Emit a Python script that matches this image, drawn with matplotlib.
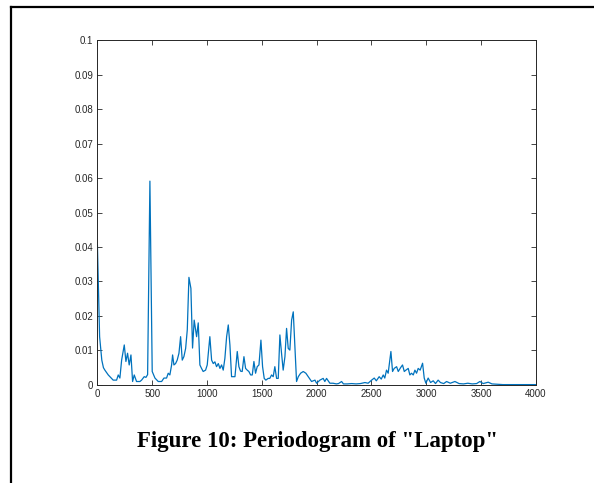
import numpy as np
import matplotlib
matplotlib.use('Agg')
import matplotlib.pyplot as plt
from matplotlib.lines import Line2D

plt.rcParams['font.family'] = 'Liberation Sans'

# periodogram estimate (frequency, power)
freq = [0, 20, 40, 55, 68, 99, 144, 175, 190, 205, 221, 245, 260, 275, 290, 306, 321, 336,
        357, 388, 403, 427, 443, 458, 479, 500, 525, 555, 586, 607, 631, 646, 661, 677, 686,
        698, 713, 728, 744, 759, 774, 789, 805, 820, 835, 853, 868, 883, 905, 920, 935, 950,
        965, 987, 1002, 1026, 1042, 1057, 1072, 1087, 1103, 1118, 1133, 1148, 1163, 1179,
        1194, 1209, 1224, 1240, 1255, 1276, 1291, 1306, 1321, 1337, 1352, 1367, 1382, 1398,
        1413, 1428, 1443, 1458, 1474, 1492, 1507, 1522, 1537, 1558, 1573, 1589, 1604, 1619,
        1635, 1650, 1665, 1680, 1695, 1711, 1726, 1741, 1756, 1772, 1787, 1802, 1817, 1833,
        1854, 1878, 1902, 1924, 1954, 1985, 2000, 2030, 2060, 2075, 2091, 2121, 2150, 2180,
        2200, 2228, 2245, 2280, 2320, 2360, 2400, 2441, 2470, 2502, 2526, 2545, 2571, 2590,
        2608, 2622, 2638, 2653, 2678, 2693, 2708, 2730, 2745, 2766, 2784, 2800, 2815, 2836,
        2851, 2866, 2882, 2897, 2912, 2927, 2945, 2967, 2982, 2997, 3018, 3040, 3064, 3085,
        3109, 3130, 3160, 3186, 3220, 3262, 3300, 3340, 3380, 3420, 3460, 3490, 3520, 3566,
        3600, 3650, 3700, 3800, 3900, 4000]
power = [0.0405, 0.0140, 0.0072, 0.0050, 0.0043, 0.0029, 0.0014, 0.0014, 0.0029, 0.0020,
         0.0072, 0.0116, 0.0068, 0.0092, 0.0058, 0.0087, 0.0010, 0.0029, 0.0010, 0.0010,
         0.0014, 0.0024, 0.0022, 0.0030, 0.0591, 0.0039, 0.0020, 0.0010, 0.0010, 0.0020,
         0.0020, 0.0034, 0.0029, 0.0058, 0.0087, 0.0058, 0.0062, 0.0072, 0.0092, 0.0140,
         0.0072, 0.0082, 0.0106, 0.0160, 0.0312, 0.0280, 0.0107, 0.0188, 0.0140, 0.0180,
         0.0058, 0.0048, 0.0039, 0.0043, 0.0058, 0.0140, 0.0072, 0.0062, 0.0067, 0.0053,
         0.0062, 0.0048, 0.0058, 0.0043, 0.0077, 0.0140, 0.0174, 0.0116, 0.0024, 0.0024,
         0.0024, 0.0097, 0.0053, 0.0040, 0.0039, 0.0082, 0.0048, 0.0043, 0.0039, 0.0029,
         0.0029, 0.0068, 0.0034, 0.0053, 0.0058, 0.0130, 0.0053, 0.0019, 0.0014, 0.0019,
         0.0019, 0.0029, 0.0024, 0.0053, 0.0019, 0.0019, 0.0145, 0.0092, 0.0043, 0.0082,
         0.0164, 0.0106, 0.0101, 0.0188, 0.0212, 0.0111, 0.0010, 0.0024, 0.0034, 0.0039,
         0.0034, 0.0024, 0.0010, 0.0014, 0.0005, 0.0014, 0.0019, 0.0010, 0.0019, 0.0005,
         0.0005, 0.0003, 0.0004, 0.0010, 0.0003, 0.0003, 0.0004, 0.0003, 0.0004, 0.0007,
         0.0005, 0.0014, 0.0020, 0.0012, 0.0024, 0.0017, 0.0029, 0.0020, 0.0043, 0.0034,
         0.0097, 0.0039, 0.0048, 0.0053, 0.0039, 0.0050, 0.0058, 0.0039, 0.0043, 0.0048,
         0.0029, 0.0034, 0.0029, 0.0043, 0.0034, 0.0048, 0.0043, 0.0063, 0.0020, 0.0005,
         0.0020, 0.0007, 0.0012, 0.0004, 0.0014, 0.0007, 0.0004, 0.0010, 0.0005, 0.0010,
         0.0004, 0.0003, 0.0005, 0.0003, 0.0004, 0.0010, 0.0004, 0.0008, 0.0003, 0.0002,
         0.0001, 0.0001, 0.0001, 0.0001]

xticks = [0, 500, 1000, 1500, 2000, 2500, 3000, 3500, 4000]
yticks = [0, 0.01, 0.02, 0.03, 0.04, 0.05, 0.06, 0.07, 0.08, 0.09, 0.1]
ylabels = ['0', '0.01', '0.02', '0.03', '0.04', '0.05', '0.06', '0.07', '0.08', '0.09', '0.1']

fig = plt.figure(figsize=(5.94, 4.83), dpi=100)
ax = fig.add_axes([0.164, 0.203, 0.738, 0.714])

ax.plot(freq, power, color='#0072BD', lw=0.9)

ax.set_xlim(0, 4000)
ax.set_ylim(0, 0.1)
ax.set_xticks(xticks)
ax.set_xticklabels([str(t) for t in xticks])
ax.set_yticks(yticks)
ax.set_yticklabels(ylabels)
ax.tick_params(direction='in', top=True, right=True, length=3.5, width=0.6,
               labelsize=7, colors='#262626', pad=3)
for sp in ax.spines.values():
    sp.set_color('#262626')
    sp.set_linewidth(0.7)

# caption under the axes
fig.text(0.534, 0.085, 'Figure 10: Periodogram of "Laptop"', ha='center', va='center',
         fontsize=16.5, fontweight='bold', family='Liberation Serif')

# frame around the figure (runs off the right and bottom edges)
fig.add_artist(Line2D([11/594, 1.0], [1 - 7/483, 1 - 7/483], color='black', lw=1.6,
                      transform=fig.transFigure))
fig.add_artist(Line2D([11/594, 11/594], [1 - 7/483, 0.0], color='black', lw=1.6,
                      transform=fig.transFigure))

fig.savefig('out.png', dpi=100)
